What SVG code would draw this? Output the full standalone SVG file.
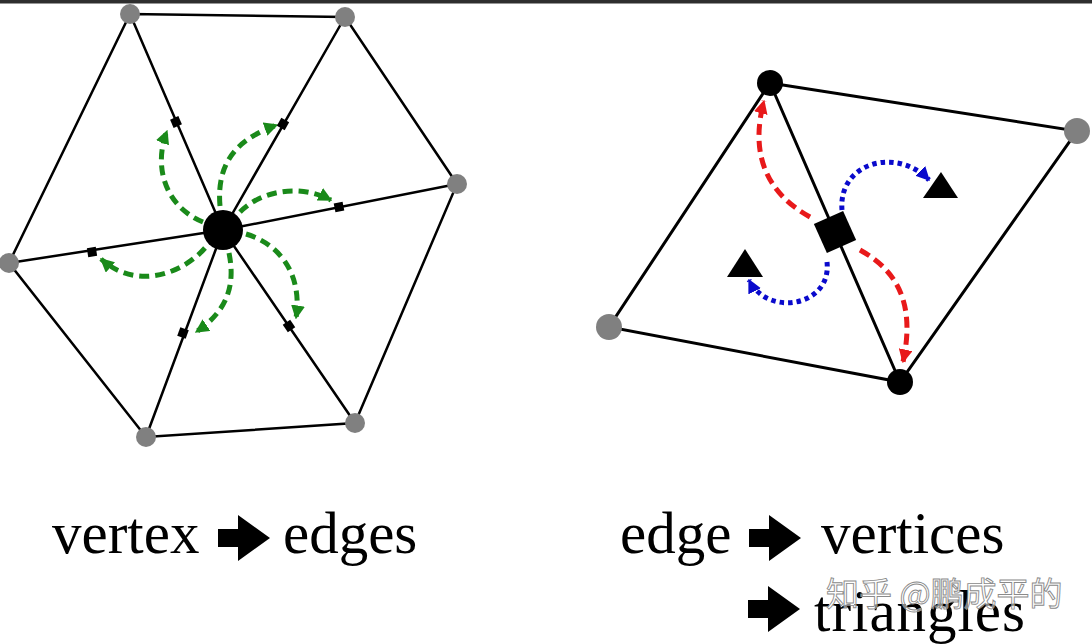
<svg xmlns="http://www.w3.org/2000/svg" xmlns:xlink="http://www.w3.org/1999/xlink" width="1092" height="644" viewBox="0 0 1092 644">
<style>
.edge{stroke:#000;stroke-width:2.5;fill:none;stroke-linecap:round}
.edge2{stroke:#000;stroke-width:3;fill:none;stroke-linecap:round}
.gv{fill:#808080}
.bv{fill:#000}
.green{stroke:#1a8a1a;stroke-width:5;fill:none;stroke-dasharray:10 6}
.red{stroke:#e8191a;stroke-width:5;fill:none;stroke-dasharray:11 6}
.blue{stroke:#0a0acc;stroke-width:5;fill:none;stroke-dasharray:4.5 4}
.lbl{font-family:"Liberation Serif","Times New Roman",serif;font-size:59px;fill:#000}
.wm{font-family:"Noto Sans CJK SC","Noto Sans",sans-serif;font-size:33px;fill:#fff;fill-opacity:0.55;stroke:#8a8a8a;stroke-width:0.9}
</style>
<defs>
<marker id="hg" viewBox="0 0 10 10" refX="9" refY="5" markerWidth="14" markerHeight="14" markerUnits="userSpaceOnUse" orient="auto"><path d="M0,0 L10,5 L0,10 z" fill="#1a8a1a"/></marker>
<marker id="hr" viewBox="0 0 10 10" refX="9" refY="5" markerWidth="14" markerHeight="14" markerUnits="userSpaceOnUse" orient="auto"><path d="M0,0 L10,5 L0,10 z" fill="#e8191a"/></marker>
<marker id="hb" viewBox="0 0 10 10" refX="9" refY="5" markerWidth="14" markerHeight="14" markerUnits="userSpaceOnUse" orient="auto"><path d="M0,0 L10,5 L0,10 z" fill="#0a0acc"/></marker>
<polygon id="bigarrow" points="0,-9 20,-9 20,-23 52,0 20,23 20,9 0,9" fill="#000"/>
</defs>
<rect x="0" y="0" width="1092" height="644" fill="#fff"/>
<rect x="0" y="0" width="1092" height="3.5" fill="#2e2e2e"/>

<g id="connectors">
  <polygon class="edge" points="130,14 345,17 457,184 355,423 146,437 9,263"/>
  <line class="edge" x1="223" y1="230" x2="130" y2="14"/>
  <line class="edge" x1="223" y1="230" x2="345" y2="17"/>
  <line class="edge" x1="223" y1="230" x2="457" y2="184"/>
  <line class="edge" x1="223" y1="230" x2="355" y2="423"/>
  <line class="edge" x1="223" y1="230" x2="146" y2="437"/>
  <line class="edge" x1="223" y1="230" x2="9" y2="263"/>
  <path class="green" marker-end="url(#hg)" d="M203,222 C168,208 152,170 167,131"/>
  <path class="green" marker-end="url(#hg)" d="M220,206 C216,160 240,138 277,125"/>
  <path class="green" marker-end="url(#hg)" d="M240,212 C262,190 300,184 331,200"/>
  <path class="green" marker-end="url(#hg)" d="M246,234 C285,246 302,280 296,318"/>
  <path class="green" marker-end="url(#hg)" d="M229,253 C236,287 226,312 196,332"/>
  <path class="green" marker-end="url(#hg)" d="M205,248 C184,272 138,292 101,259"/>
  <polygon class="edge2" points="770,83 1077,131 900,382 609,327"/>
  <line class="edge2" x1="770" y1="83" x2="900" y2="382"/>
  <path class="red" marker-end="url(#hr)" d="M810,217 C772,196 748,160 764,101"/>
  <path class="red" marker-end="url(#hr)" d="M860,250 C896,270 916,302 903,362"/>
  <path class="blue" marker-end="url(#hb)" d="M842,210 C838,163 896,146 929,180"/>
  <path class="blue" marker-end="url(#hb)" d="M827,262 C832,306 768,318 749,280"/>
</g>

<g id="hex-vertices">
  <circle id="v-tl" class="gv" cx="130" cy="14" r="10"/>
  <circle id="v-tr" class="gv" cx="345" cy="17" r="10"/>
  <circle id="v-r" class="gv" cx="457" cy="184" r="10"/>
  <circle id="v-br" class="gv" cx="355" cy="423" r="10"/>
  <circle id="v-bl" class="gv" cx="146" cy="437" r="10"/>
  <circle id="v-l" class="gv" cx="9" cy="263" r="10"/>
</g>
<g id="center-vertex"><circle class="bv" cx="223" cy="230" r="20"/></g>
<g id="edge-marks">
  <rect id="e1" x="-4.5" y="-4.5" width="9" height="9" transform="translate(176,122) rotate(66.7)"/>
  <rect id="e2" x="-4.5" y="-4.5" width="9" height="9" transform="translate(283,124) rotate(-60.2)"/>
  <rect id="e3" x="-4.5" y="-4.5" width="9" height="9" transform="translate(339,207) rotate(-11.1)"/>
  <rect id="e4" x="-4.5" y="-4.5" width="9" height="9" transform="translate(92,252) rotate(-8.8)"/>
  <rect id="e5" x="-4.5" y="-4.5" width="9" height="9" transform="translate(183,333) rotate(110.4)"/>
  <rect id="e6" x="-4.5" y="-4.5" width="9" height="9" transform="translate(289,326) rotate(55.6)"/>
</g>

<g id="right-vertices">
  <circle id="rv-top" class="bv" cx="770" cy="83" r="13"/>
  <circle id="rv-bottom" class="bv" cx="900" cy="382" r="13"/>
  <circle id="rv-right" class="gv" cx="1077" cy="131" r="13"/>
  <circle id="rv-left" class="gv" cx="609" cy="327" r="13"/>
</g>
<g id="center-edge"><rect x="-16" y="-16" width="32" height="32" transform="translate(835,232) rotate(-24)"/></g>
<g id="tri-1"><polygon points="941,172 923,198 958,198" fill="#000"/></g>
<g id="tri-2"><polygon points="745,249 727,277 763,277" fill="#000"/></g>

<g id="label-left">
  <text class="lbl" x="52" y="553">vertex</text>
  <use xlink:href="#bigarrow" x="218" y="538"/>
  <text class="lbl" x="283" y="553">edges</text>
</g>
<g id="label-right">
  <text class="lbl" x="620" y="553">edge</text>
  <use xlink:href="#bigarrow" x="749" y="538"/>
  <text class="lbl" x="821" y="553">vertices</text>
  <use xlink:href="#bigarrow" x="748" y="609"/>
  <text class="lbl" x="814" y="631" textLength="211">triangles</text>
</g>
<g id="watermark">
  <text class="wm" x="826" y="606">知乎 @鹏成平的</text>
</g>
</svg>
